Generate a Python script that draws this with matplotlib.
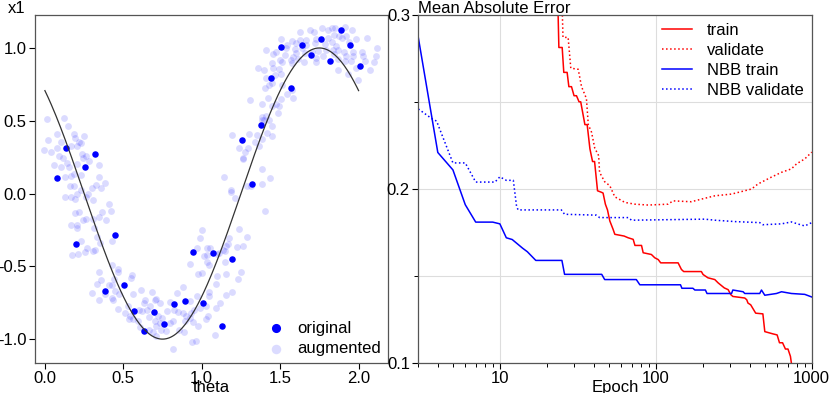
import numpy as np
import matplotlib
matplotlib.use("Agg")
import matplotlib.pyplot as plt
from matplotlib.ticker import FixedLocator, NullFormatter, FuncFormatter

plt.rcParams['font.family'] = ['Liberation Sans', 'DejaVu Sans']
plt.rcParams['font.size'] = 12
plt.rcParams['axes.unicode_minus'] = False

# ---- left panel: original and augmented samples ----
theta_orig = [0.079, 0.134, 0.200, 0.257, 0.321, 0.384, 0.446, 0.507, 0.571, 0.635,
              0.694, 0.758, 0.820, 0.892, 0.943, 1.008, 1.072, 1.132, 1.193, 1.257,
              1.318, 1.380, 1.444, 1.507, 1.569, 1.637, 1.694, 1.758, 1.820, 1.885,
              1.943, 2.006]
x1_orig = [0.108, 0.311, -0.346, 0.181, 0.275, -0.669, -0.286, -0.630, -0.810, -0.943,
           -0.817, -0.898, -0.760, -0.735, -0.403, -0.749, -0.410, -0.911, -0.453, 0.369,
           0.069, 0.474, 0.797, 1.007, 0.723, 1.019, 0.950, 1.060, 0.913, 1.126,
           1.019, 0.877]

aug_theta = [
    0.013, 0.119, 0.149, 0.076, 0.185, 0.248, 0.019, 0.100, 0.193, -0.006,
    0.040, 0.074, 0.164, 0.217, 0.227, 0.206, 0.117, 0.087, 0.236, 0.263,
    0.242, 0.278, 0.057, 0.100, 0.142, 0.151, 0.202, 0.342, 0.185, 0.164,
    0.227, 0.129, 0.342, 0.157, 0.185, 0.327, 0.384, 0.359, 0.301, 0.206,
    0.231, 0.274, 0.125, 0.164, 0.189, 0.306, 0.406, 0.263,
    0.189, 0.219, 0.363, 0.422, 0.261, 0.244, 0.308, 0.342, 0.389, 0.164,
    0.202, 0.206, 0.312, 0.329, 0.227, 0.350, 0.431, 0.270, 0.253, 0.214,
    0.172, 0.308, 0.321, 0.427, 0.465, 0.469, 0.346, 0.439, 0.355, 0.329,
    0.406, 0.427, 0.299, 0.384, 0.448, 0.473, 0.427, 0.342, 0.435, 0.465,
    0.924, 1.034, 1.047, 1.149, 0.554, 0.550, 1.004, 0.975, 1.098, 1.153,
    1.251, 1.229, 0.614, 0.686, 0.563, 0.881, 0.843, 1.089, 1.047, 1.157,
    1.195, 0.711, 0.699, 0.639, 0.669, 0.631, 0.732, 0.796, 0.970, 0.924,
    1.047, 1.115, 0.529, 0.512, 0.541, 0.597, 0.618, 0.648, 0.537, 0.563,
    0.592, 0.665, 0.724, 0.745, 0.732, 0.779, 0.822, 0.851, 0.881, 0.902,
    0.932, 0.949, 0.992, 1.030, 0.894, 0.928, 0.945, 1.042, 0.979, 0.796,
    0.817, 0.699, 0.711, 0.605, 0.665, 0.690, 0.711, 0.741, 0.775, 0.855,
    0.890, 1.030, 1.089, 1.085, 0.936, 0.962, 0.817,
    1.191, 1.301, 1.350, 1.414, 1.448, 1.384, 1.342, 1.363, 1.240, 1.295,
    1.274, 1.261, 1.265, 1.384, 1.435, 1.142, 1.384, 1.316, 1.287, 1.189,
    1.185, 1.210, 1.401, 1.002, 1.236, 0.989, 1.176, 1.287, 0.968, 1.036,
    1.053, 1.113, 1.138, 1.155, 1.168, 1.227, 1.265, 1.146, 1.015, 1.032,
    1.096,
    1.688, 1.769, 1.828, 1.849, 1.913, 1.960, 1.713, 1.628, 1.807, 1.875,
    1.921, 1.985, 2.053, 1.505, 1.573, 1.624, 1.662, 1.726, 1.807, 1.841,
    1.892, 1.938, 1.543, 1.599, 1.667, 1.722, 1.785, 1.832, 1.858, 1.476,
    1.412, 1.535, 1.594, 1.637, 1.603, 1.658, 1.701, 1.739, 1.794, 1.836,
    1.871, 1.909, 1.964, 2.019, 2.117, 2.113, 1.454, 1.531, 1.582, 1.654,
    1.726, 1.773, 1.841, 1.921, 1.964, 2.028, 1.497, 1.569, 1.616, 1.730,
    1.871, 1.913, 1.951, 2.100, 2.040, 1.450, 1.357, 1.395, 1.454, 1.492,
    1.514, 1.578, 1.871, 1.985, 2.070, 1.467, 1.505, 1.408, 1.934, 1.998,
    1.450, 1.403, 1.429, 1.510, 1.573, 1.306, 1.387, 1.425, 1.505, 1.543,
    1.582, 1.476, 1.446, 1.492, 1.488, 1.412, 1.387, 1.399, 1.429, 1.450,
    1.382]
aug_x1 = [
    0.510, 0.517, 0.467, 0.407, 0.412, 0.394, 0.369, 0.357, 0.380, 0.298,
    0.288, 0.316, 0.330, 0.352, 0.346, 0.325, 0.242, 0.261, 0.275, 0.259,
    0.247, 0.224, 0.197, 0.183, 0.213, 0.179, 0.206, 0.194, 0.137, 0.119,
    0.128, 0.115, 0.115, 0.050, 0.050, 0.060, 0.071, 0.041, 0.036, 0.000,
    0.023, 0.000, -0.023, -0.027, -0.036, -0.041, -0.073, -0.027,
    -0.135, -0.130, -0.126, -0.121, -0.172, -0.185, -0.176, -0.158, -0.181, -0.218,
    -0.213, -0.236, -0.240, -0.300, -0.328, -0.337, -0.323, -0.373, -0.401, -0.414,
    -0.424, -0.396, -0.387, -0.488, -0.515, -0.538, -0.538, -0.588, -0.593, -0.620,
    -0.630, -0.625, -0.685, -0.689, -0.671, -0.689, -0.716, -0.730, -0.730, -0.790,
    -0.481, -0.472, -0.490, -0.472, -0.559, -0.581, -0.545, -0.554, -0.563, -0.554,
    -0.536, -0.586, -0.664, -0.678, -0.691, -0.641, -0.682, -0.623, -0.678, -0.696,
    -0.678, -0.723, -0.733, -0.733, -0.774, -0.751, -0.751, -0.742, -0.701, -0.737,
    -0.705, -0.751, -0.774, -0.820, -0.843, -0.797, -0.810, -0.797, -0.865, -0.861,
    -0.879, -0.847, -0.838, -0.856, -0.888, -0.810, -0.797, -0.815, -0.824, -0.843,
    -0.820, -0.797, -0.788, -0.774, -0.879, -0.856, -0.884, -0.843, -0.911, -0.888,
    -0.879, -0.879, -0.911, -0.920, -0.934, -0.952, -0.980, -0.939, -0.943, -0.934,
    -0.952, -0.861, -0.788, -0.970, -1.021, -1.012, -1.071,
    0.403, 0.407, 0.403, 0.417, 0.394, 0.376, 0.352, 0.325, 0.311, 0.316,
    0.288, 0.247, 0.234, 0.170, 0.105, 0.115, 0.064, 0.050, 0.050, 0.023,
    0.014, -0.032, -0.119, -0.247, -0.243, -0.302, -0.307, -0.297, -0.375, -0.375,
    -0.371, -0.407, -0.385, -0.357, -0.348, -0.366, -0.362, -0.398, -0.430, -0.421,
    -0.417,
    1.126, 1.136, 1.140, 1.136, 1.145, 1.126, 1.113, 1.108, 1.126, 1.085,
    1.081, 1.062, 1.067, 1.062, 1.049, 1.058, 1.058, 1.062, 1.071, 1.090,
    1.067, 1.039, 1.021, 1.035, 1.021, 1.035, 1.030, 1.044, 1.012, 0.975,
    0.984, 0.998, 0.994, 0.998, 0.966, 0.966, 0.975, 0.980, 0.989, 0.989,
    0.984, 0.971, 0.971, 0.975, 1.003, 0.943, 0.957, 0.952, 0.939, 0.907,
    0.934, 0.943, 0.962, 0.943, 0.948, 0.943, 0.920, 0.916, 0.925, 0.907,
    0.925, 0.911, 0.911, 0.902, 0.911, 0.897, 0.865, 0.852, 0.861, 0.856,
    0.902, 0.897, 0.852, 0.861, 0.852, 0.815, 0.819, 0.797, 0.819, 0.783,
    0.760, 0.728, 0.746, 0.746, 0.714, 0.641, 0.618, 0.655, 0.650, 0.687,
    0.655, 0.613, 0.600, 0.600, 0.554, 0.531, 0.527, 0.504, 0.508, 0.462,
    0.508]

# underlying curve x1 = sin(pi * (theta + 0.75))
theta_line = np.linspace(0.0, 2.0, 200)
x1_line = np.sin(np.pi * (theta_line + 0.75))

# ---- right panel: learning curves ----
train_epoch = [23.5, 23.9, 25.1, 25.7, 27, 27.7, 28.8, 29.9, 31, 32.2, 33, 35.1, 36.3,
               37.8, 39.3, 40.5, 42.3, 44.9, 45.9, 47.5, 49, 50.7, 53.2, 54.6, 62.6,
               66.5, 71.6, 73.5, 81, 83, 93.7, 98.5, 103.6, 107.5, 139, 146, 151, 196,
               201, 216, 239, 251, 275, 291, 303, 312, 372, 383, 390, 406, 437, 486,
               500, 564, 600, 621, 650, 678, 704, 730, 741, 760]
train_mae = [0.310, 0.2813, 0.2813, 0.267, 0.267, 0.2588, 0.2588, 0.2536, 0.2536,
             0.2501, 0.2501, 0.237, 0.237, 0.2231, 0.2158, 0.2158, 0.1990, 0.1981,
             0.1977, 0.1913, 0.188, 0.1817, 0.1769, 0.174, 0.173, 0.172, 0.1711,
             0.1676, 0.1676, 0.1634, 0.1624, 0.1605, 0.1595, 0.1576, 0.1576, 0.1538,
             0.1526, 0.1526, 0.1509, 0.149, 0.148, 0.1461, 0.1432, 0.1422, 0.1393,
             0.1383, 0.1374, 0.1364, 0.1345, 0.1335, 0.1287, 0.1283, 0.1181, 0.1168,
             0.1162, 0.1117, 0.1117, 0.1081, 0.1081, 0.1039, 0.0998, 0.095]

val_epoch = [25.0, 25.4, 27.4, 28.5, 31.8, 33.4, 35.9, 36.9, 38.7, 40.6, 43, 43.6, 47,
             50.7, 54.6, 57.3, 63.4, 73.5, 89.4, 119.8, 129, 169, 196, 239, 306, 411,
             452, 550, 640, 741, 800, 902, 1000]
val_mae = [0.310, 0.2871, 0.2871, 0.2694, 0.2688, 0.2588, 0.252, 0.237, 0.2327,
           0.2235, 0.2192, 0.2096, 0.2042, 0.2019, 0.1955, 0.1945, 0.1923, 0.1913,
           0.1908, 0.1913, 0.1932, 0.1927, 0.1942, 0.1961, 0.1971, 0.200, 0.2029,
           0.2068, 0.2096, 0.2116, 0.2145, 0.2173, 0.2212]

nbb_train_epoch = [3, 4, 5, 6, 7, 9, 10, 11, 12, 14, 15, 17, 25, 26, 45, 47, 75, 79,
                   144, 147, 173, 178, 208, 213, 306, 312, 363, 372, 464, 476, 500,
                   594, 640, 741, 902, 1000]
nbb_train_mae = [0.287, 0.221, 0.211, 0.191, 0.181, 0.181, 0.180, 0.172, 0.171, 0.166,
                 0.164, 0.159, 0.159, 0.151, 0.151, 0.148, 0.148, 0.145, 0.145, 0.143,
                 0.143, 0.142, 0.142, 0.140, 0.140, 0.142, 0.141, 0.140, 0.140, 0.142,
                 0.139, 0.140, 0.141, 0.140, 0.1395, 0.138]

nbb_val_epoch = [3, 3.65, 3.93, 5, 6, 7, 9.3, 10, 11, 12.2, 12.8, 13.1, 24.8, 26, 41.6,
                 43.6, 66.5, 69.9, 206, 239, 322, 464, 486, 640, 741, 810, 902, 1000]
nbb_val_mae = [0.246, 0.2405, 0.239, 0.215, 0.215, 0.204, 0.204, 0.207, 0.205, 0.205,
               0.190, 0.188, 0.188, 0.1855, 0.185, 0.1836, 0.1836, 0.1821, 0.1827,
               0.1821, 0.1813, 0.1807, 0.1795, 0.180, 0.1811, 0.180, 0.1788, 0.1807]

spine_col = "#555555"

fig = plt.figure(figsize=(8.3, 3.93), dpi=100)
ax1 = fig.add_axes([0.042, 0.076, 0.425, 0.886])
ax2 = fig.add_axes([0.504, 0.076, 0.474, 0.886])

# left
ax1.scatter(aug_theta, aug_x1, s=24, color="blue", alpha=0.14, linewidths=0,
            label="augmented", zorder=2)
ax1.scatter(theta_orig, x1_orig, s=22, color="blue", linewidths=0,
            label="original", zorder=3)
ax1.plot(theta_line, x1_line, color="#333333", lw=0.9, zorder=4)
ax1.set_xlim(-0.064, 2.185)
ax1.set_ylim(-1.165, 1.227)
ax1.set_xticks([0.0, 0.5, 1.0, 1.5, 2.0])
ax1.set_yticks([-1.0, -0.5, 0.0, 0.5, 1.0])
ax1.xaxis.set_major_formatter(FuncFormatter(lambda v, p: f"{v:.1f}"))
ax1.yaxis.set_major_formatter(FuncFormatter(lambda v, p: f"{v:.1f}"))
ax1.set_xlabel("theta", labelpad=-5)
h, l = ax1.get_legend_handles_labels()
ax1.legend(h[::-1], l[::-1], loc="lower right", frameon=False, markerscale=1.4,
           handletextpad=0.3, borderaxespad=0.0, labelspacing=0.35)

# right
ax2.plot(train_epoch, train_mae, color="red", lw=1.1, label="train")
ax2.plot(val_epoch, val_mae, color="red", lw=1.1, ls=":", label="validate")
ax2.plot(nbb_train_epoch, nbb_train_mae, color="blue", lw=1.1, label="NBB train")
ax2.plot(nbb_val_epoch, nbb_val_mae, color="blue", lw=1.1, ls=":", label="NBB validate")
ax2.set_xscale("log")
ax2.set_xlim(3, 1000)
ax2.set_ylim(0.1, 0.3)
ax2.set_xticks([10, 100, 1000])
ax2.xaxis.set_major_formatter(FuncFormatter(lambda v, p: f"{int(round(v))}"))
ax2.xaxis.set_minor_formatter(NullFormatter())
ax2.set_yticks([0.1, 0.2, 0.3])
ax2.yaxis.set_minor_locator(FixedLocator([0.15, 0.25]))
ax2.yaxis.set_major_formatter(FuncFormatter(lambda v, p: f"{v:.1f}"))
ax2.grid(True, which="major", color="#dddddd", lw=0.8)
ax2.grid(True, which="minor", axis="y", color="#dddddd", lw=0.8)
ax2.set_axisbelow(True)
ax2.set_xlabel("Epoch", labelpad=-5)
ax2.legend(loc="upper right", frameon=False, handlelength=1.8, handletextpad=0.9,
           borderaxespad=0.1, labelspacing=0.3)

for ax in (ax1, ax2):
    for s in ax.spines.values():
        s.set_color(spine_col)
        s.set_linewidth(0.9)
    ax.tick_params(colors="black", length=4, width=0.8, pad=2)
    ax.tick_params(which="minor", length=3, width=0.7)

fig.text(0.009, 0.967, "x1", fontsize=12, va="baseline")
fig.text(0.504, 0.967, "Mean Absolute Error", fontsize=12, va="baseline")

fig.savefig("out.png", dpi=100)
